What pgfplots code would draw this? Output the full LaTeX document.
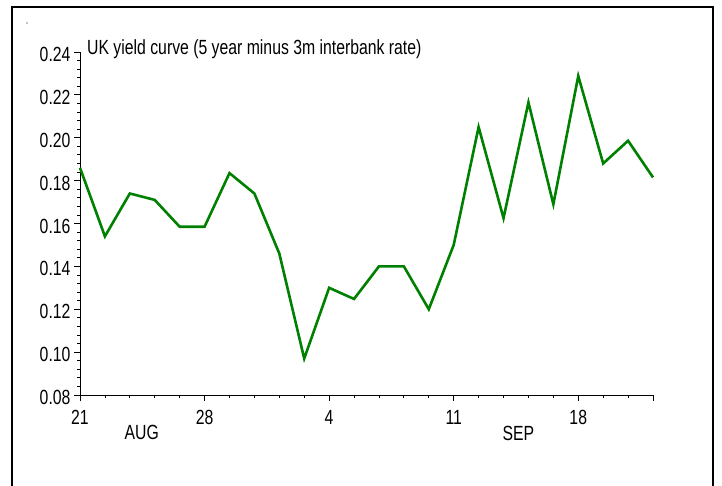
\documentclass[border=0pt]{standalone}
\usepackage{fontspec}
\setmainfont{Liberation Sans}[FakeStretch=0.77]
\usepackage{pgfplots}
\pgfplotsset{compat=1.18}
\definecolor{linegreen}{RGB}{0,128,0}
\begin{document}
\begin{tikzpicture}[x=1pt,y=1pt]
\begin{axis}[
  at={(80pt,-395pt)}, anchor=south west,
  scale only axis, width=573pt, height=343pt,
  xmin=0, xmax=23, ymin=0.08, ymax=0.24,
  axis lines*=left,
  axis line style={line width=1pt},
  xtick={0,5,10,15,20,23}, xticklabels={21,28,4,11,18,{}},
  minor xtick={1,2,3,4,6,7,8,9,11,12,13,14,16,17,18,19,21,22},
  ytick={0.08,0.10,0.12,0.14,0.16,0.18,0.20,0.22,0.24},
  minor y tick num=4,
  tick align=outside,
  major tick length=6pt, minor tick length=3pt,
  tick style={black, line width=0.8pt},
  yticklabel style={yshift=-2.5pt, /pgf/number format/.cd, fixed, fixed zerofill, precision=2, assume math mode=true},
  xticklabel style={yshift=-6pt},
  ticklabel style={font=\fontsize{20.5}{22}\selectfont},
  clip=false,
]
\addplot[linegreen, line width=2.6pt, mark=none] coordinates {
(0,0.186)(1,0.154)(2,0.174)(3,0.171)(4,0.1585)(5,0.1585)(6,0.1835)(7,0.174)
(8,0.146)(9,0.097)(10,0.130)(11,0.1248)(12,0.140)(13,0.140)(14,0.120)(15,0.150)
(16,0.205)(17,0.1625)(18,0.2165)(19,0.169)(20,0.2288)(21,0.188)(22,0.1986)(23,0.1815)
};
\node[font=\fontsize{20.5}{22}\selectfont] at (axis cs:2.48,0.08) [yshift=-37pt] {AUG};
\node[font=\fontsize{20.5}{22}\selectfont] at (axis cs:17.6,0.08) [yshift=-38pt] {SEP};
\end{axis}
\node[anchor=base west, font=\fontsize{20.5}{22}\selectfont, inner sep=0pt] at (87,-55) {UK yield curve (5 year minus 3m interbank rate)};
\fill (27,-23) circle (0.6);
\draw[line width=1.2pt] (12,-495) -- (12,-7) -- (713,-7) -- (713,-495);
\pgfresetboundingbox
\path (0,0) rectangle (722,-486);
\end{tikzpicture}
\end{document}
